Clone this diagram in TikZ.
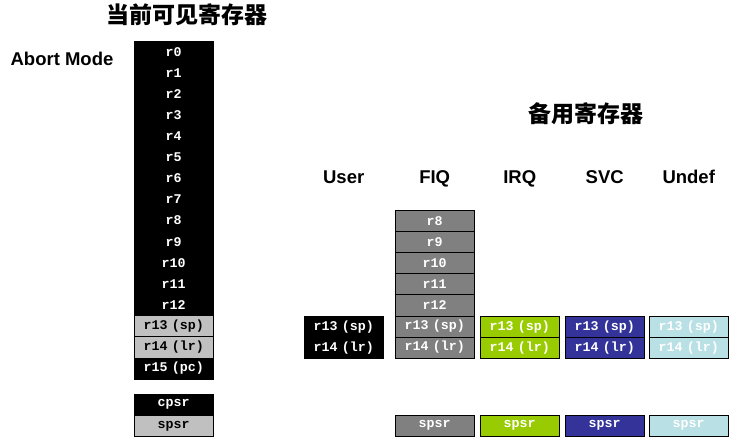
\documentclass[tikz,border=0pt]{standalone}
\usepackage{fontspec}
\setmainfont{Liberation Sans}
\newfontfamily\cjk{Noto Sans CJK SC}
\newfontfamily\regfont{Liberation Mono}
\usetikzlibrary{positioning}
\usetikzlibrary{matrix}

\definecolor{lgrey}{RGB}{192,192,192}
\definecolor{fiqgrey}{RGB}{128,128,128}
\definecolor{irqgreen}{RGB}{153,204,0}
\definecolor{svcblue}{RGB}{51,51,153}
\definecolor{undcyan}{RGB}{185,224,228}

\begin{document}
\begin{tikzpicture}[x=1pt,y=-1pt]

\tikzset{reg matrix/.style={
		matrix of nodes,
		anchor=north west,
		inner sep=0pt, outer sep=0pt,
		column sep=-\pgflinewidth, row sep=-\pgflinewidth,
		nodes={draw,
			minimum height=21.1pt,
			anchor=center,
			text width=79pt,
			align=center,
			inner sep=0pt,
			font=\regfont\bfseries\fontsize{13.3}{14}\selectfont
		},
	},
	blk/.style={fill=black, text=white},
	lgr/.style={fill=lgrey, text=black},
	hdr/.style={font=\bfseries\fontsize{18.5}{20}\selectfont, anchor=base},
	ttl/.style={font=\cjk\bfseries\fontsize{23}{25}\selectfont}
}
\useasboundingbox (0,0) rectangle (755,446);

\node[ttl] (curttl) at (187,15) {当前可见寄存器};
\node[hdr] (mode) at (62,66) {Abort Mode};
\node[ttl] (bakttl) at (586,114) {备用寄存器};

% current registers
\matrix[reg matrix, nodes={blk}] (cur) at (134,41)
{
	r0 \\ r1 \\ r2 \\ r3 \\ r4 \\ r5 \\ r6 \\ r7 \\
	r8 \\ r9 \\ r10 \\ r11 \\ r12 \\
	|[lgr]| r13 (sp) \\
	|[lgr]| r14 (lr) \\
	r15 (pc) \\
};
\matrix[reg matrix, nodes={blk}] (psr) at (134,394)
{
	cpsr \\
	|[lgr]| spsr \\
};

% banked registers
\matrix[reg matrix, nodes={blk}] (user) at (304,316)
{
	r13 (sp) \\
	r14 (lr) \\
};
\matrix[reg matrix, nodes={fill=fiqgrey, text=white}] (fiq) at (395,210)
{
	r8 \\ r9 \\ r10 \\ r11 \\ r12 \\
	r13 (sp) \\
	r14 (lr) \\
};
\matrix[reg matrix, nodes={fill=irqgreen, text=white}] (irq) at (480,316)
{
	r13 (sp) \\
	r14 (lr) \\
};
\matrix[reg matrix, nodes={fill=svcblue, text=white}] (svc) at (565,316)
{
	r13 (sp) \\
	r14 (lr) \\
};
\matrix[reg matrix, nodes={fill=undcyan, text=white}] (und) at (649,316)
{
	r13 (sp) \\
	r14 (lr) \\
};

\matrix[reg matrix, nodes={fill=fiqgrey, text=white}] (fiqspsr) at (395,415) { spsr \\ };
\matrix[reg matrix, nodes={fill=irqgreen, text=white}] (irqspsr) at (480,415) { spsr \\ };
\matrix[reg matrix, nodes={fill=svcblue, text=white}] (svcspsr) at (565,415) { spsr \\ };
\matrix[reg matrix, nodes={fill=undcyan, text=white}] (undspsr) at (649,415) { spsr \\ };

% mode headers
\coordinate (hdrline) at (0,184);
\node[hdr] (huser) at (user.north |- hdrline) {User};
\node[hdr] (hfiq) at (fiq.north |- hdrline) {FIQ};
\node[hdr] (hirq) at (irq.north |- hdrline) {IRQ};
\node[hdr] (hsvc) at (svc.north |- hdrline) {SVC};
\node[hdr] (hund) at (und.north |- hdrline) {Undef};

\end{tikzpicture}
\end{document}
